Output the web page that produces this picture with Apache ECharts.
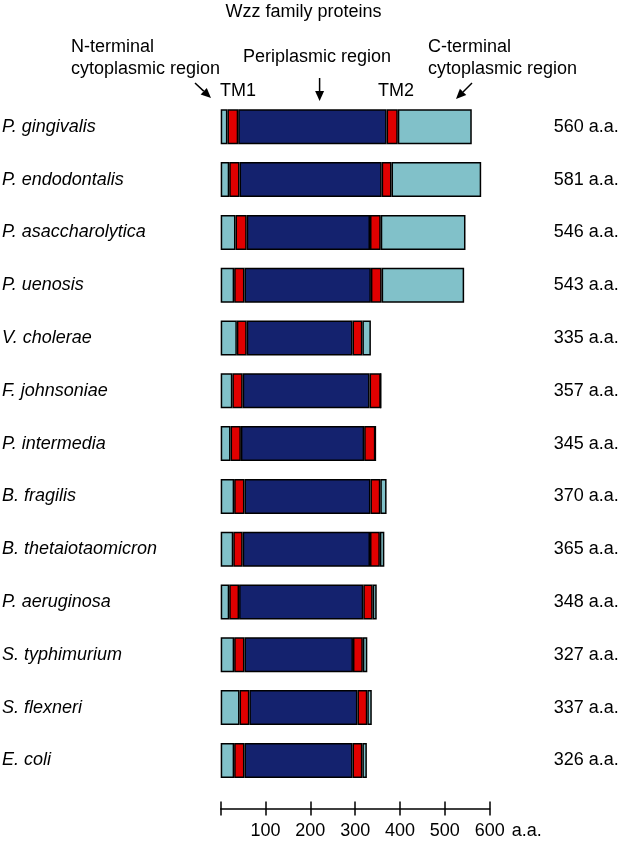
<!DOCTYPE html>
<html><head><meta charset="utf-8">
<script src="https://cdn.jsdelivr.net/npm/echarts@6/dist/echarts.min.js"></script>
<style>html,body{margin:0;padding:0;background:#fff}#c{width:622px;height:845px}</style>
</head><body><div id="c"></div>
<script>
// ---- data ----
const species = ['P. gingivalis','P. endodontalis','P. asaccharolytica','P. uenosis','V. cholerae','F. johnsoniae','P. intermedia','B. fragilis','B. thetaiotaomicron','P. aeruginosa','S. typhimurium','S. flexneri','E. coli'];
const lengths = [560,581,546,543,335,357,345,370,365,348,327,337,326];
const nTerm  = [15,19,33,30,36,26,22,30,28,19,30,42,30];
const tm1    = [24,23,25,23,22,23,23,23,21,22,23,22,23];
const peri   = [331,317,275,282,236,283,275,281,284,277,242,241,241];
const tm2    = [25,22,24,24,22,25,25,22,22,21,22,22,22];
const cTerm  = [165,200,189,184,19,0,0,14,10,9,10,10,10];
const xTicks = [0,100,200,300,400,500,600];
const segNames = ['N-terminal cytoplasmic region','TM1','Periplasmic region','TM2','C-terminal cytoplasmic region'];

// ---- style ----
const FONT = 'Liberation Sans, Arial, Helvetica, sans-serif';
const LIGHT = '#81c1c9', RED = '#e00000', NAVY = '#14226e';
const segColors = [LIGHT, RED, NAVY, RED, LIGHT];
const segData = [nTerm, tm1, peri, tm2, cTerm];

function arrow(x1, y1, x2, y2) {
  const dx = x2 - x1, dy = y2 - y1, L = Math.hypot(dx, dy);
  const ux = dx / L, uy = dy / L, hl = 10, hw = 4.5;
  const bx = x2 - ux * hl, by = y2 - uy * hl;
  return [
    { type: 'line', shape: { x1, y1, x2: bx, y2: by }, style: { stroke: '#000', lineWidth: 1.5 } },
    { type: 'polygon', shape: { points: [[x2, y2], [bx - uy * hw, by + ux * hw], [bx + uy * hw, by - ux * hw]] }, style: { fill: '#000' } }
  ];
}
function txt(text, x, y, align) {
  return { type: 'text', x, y, style: { text, fill: '#000', font: '18px ' + FONT, textAlign: align || 'left', textVerticalAlign: 'middle' } };
}

const chart = echarts.init(document.getElementById('c'), null, { renderer: 'canvas' });
const axisLabelBase = { color: '#000', fontSize: 18, fontFamily: FONT };

const option = {
  animation: false,
  backgroundColor: '#fff',
  grid: { left: 220.7, right: 132.3, top: 100.4, height: 686.4, containLabel: false, outerBoundsMode: 'none' },
  xAxis: [
    { type: 'value', min: xTicks[0], max: xTicks[xTicks.length - 1], interval: 100, position: 'bottom', offset: 21.6,
      axisLine: { show: true, lineStyle: { color: '#000', width: 1.5 } },
      axisTick: { show: true, inside: false, length: 7, lineStyle: { color: '#000', width: 1.5 } },
      axisLabel: Object.assign({ margin: 14, formatter: v => (v === 0 ? '' : String(v)) }, axisLabelBase),
      splitLine: { show: false },
      name: 'a.a.', nameLocation: 'end', nameGap: 22,
      nameTextStyle: { color: '#000', fontSize: 18, fontFamily: FONT, verticalAlign: 'top', padding: [14, 0, 0, 0] } },
    { type: 'value', min: xTicks[0], max: xTicks[xTicks.length - 1], interval: 100, position: 'bottom', offset: 21.6,
      axisLine: { show: false },
      axisTick: { show: true, inside: true, length: 7, lineStyle: { color: '#000', width: 1.5 } },
      axisLabel: { show: false }, splitLine: { show: false } }
  ],
  yAxis: [
    { type: 'category', data: species, inverse: true, position: 'left',
      axisLine: { show: false }, axisTick: { show: false }, splitLine: { show: false },
      axisLabel: Object.assign({ align: 'left', margin: 218.7, fontStyle: 'italic', interval: 0 }, axisLabelBase) },
    { type: 'category', data: lengths.map(l => l + ' a.a.'), inverse: true, position: 'right',
      axisLine: { show: false }, axisTick: { show: false }, splitLine: { show: false },
      axisLabel: Object.assign({ align: 'left', margin: 64, interval: 0 }, axisLabelBase) }
  ],
  series: segData.map((arr, i) => ({
    name: segNames[i] + (i === 4 ? '' : ''),
    type: 'bar', stack: 'protein', xAxisIndex: 0, yAxisIndex: 0,
    barWidth: 35,
    data: arr,
    itemStyle: { color: segColors[i], borderColor: '#000', borderWidth: 1.5 },
    emphasis: { disabled: true }
  })),
  graphic: [
    txt('Wzz family proteins', 303.5, 12, 'center'),
    txt('N-terminal', 71, 47),
    txt('cytoplasmic region', 71, 69.5),
    txt('Periplasmic region', 243, 57),
    txt('C-terminal', 428, 47),
    txt('cytoplasmic region', 428, 69.5),
    txt('TM1', 220, 91),
    txt('TM2', 378, 91),
    ...arrow(195, 83, 211, 98),
    ...arrow(319.6, 78, 319.6, 101),
    ...arrow(472, 83, 456, 99)
  ]
};
chart.setOption(option);
</script>
</body></html>
